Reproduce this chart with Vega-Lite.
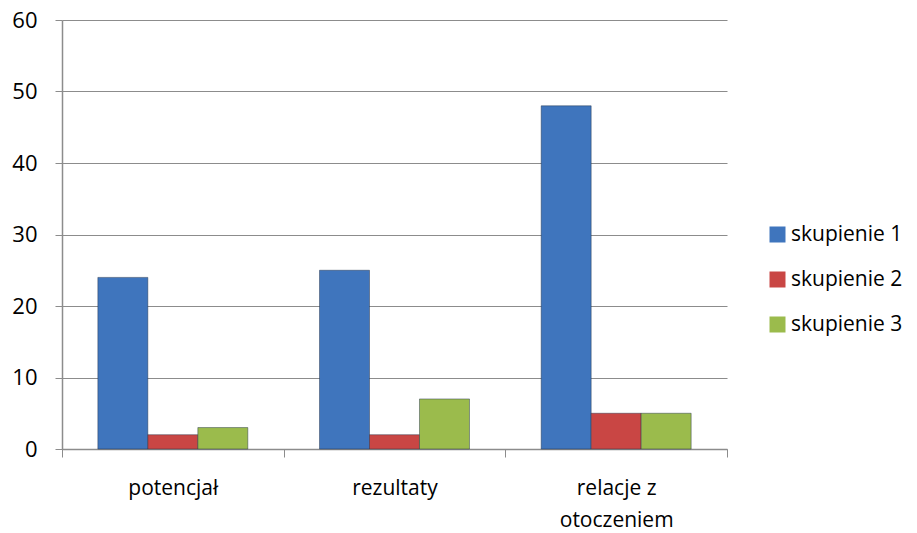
{
  "$schema": "https://vega.github.io/schema/vega-lite/v6.json",
  "width": 665,
  "height": 429,
  "autosize": {"type": "none"},
  "padding": {"left": 62, "top": 20, "right": 190, "bottom": 84},
  "background": "white",
  "config": {
    "view": {"stroke": null},
    "font": "Open Sans"
  },
  "data": {
    "values": [
      {"kategoria": "potencjał", "seria": "skupienie 1", "wartosc": 24},
      {"kategoria": "potencjał", "seria": "skupienie 2", "wartosc": 2},
      {"kategoria": "potencjał", "seria": "skupienie 3", "wartosc": 3},
      {"kategoria": "rezultaty", "seria": "skupienie 1", "wartosc": 25},
      {"kategoria": "rezultaty", "seria": "skupienie 2", "wartosc": 2},
      {"kategoria": "rezultaty", "seria": "skupienie 3", "wartosc": 7},
      {"kategoria": "relacje z otoczeniem", "seria": "skupienie 1", "wartosc": 48},
      {"kategoria": "relacje z otoczeniem", "seria": "skupienie 2", "wartosc": 5},
      {"kategoria": "relacje z otoczeniem", "seria": "skupienie 3", "wartosc": 5}
    ]
  },
  "mark": {"type": "bar", "stroke": "#1f2f45", "strokeOpacity": 0.45, "strokeWidth": 1},
  "encoding": {
    "x": {
      "field": "kategoria",
      "type": "nominal",
      "sort": ["potencjał", "rezultaty", "relacje z otoczeniem"],
      "scale": {"paddingInner": 0, "paddingOuter": 0},
      "axis": {
        "title": null,
        "labelAngle": 0,
        "labelFontSize": 21,
        "labelColor": "#000000",
        "labelPadding": 20,
        "labelLineHeight": 32,
        "labelExpr": "datum.label == 'relacje z otoczeniem' ? ['relacje z', 'otoczeniem'] : datum.label",
        "tickBand": "extent",
        "tickSize": 8,
        "tickColor": "#8c8c8c",
        "domainColor": "#8c8c8c",
        "domainWidth": 1.5,
        "grid": false
      }
    },
    "xOffset": {
      "field": "seria",
      "type": "nominal",
      "scale": {"paddingInner": 0, "paddingOuter": 0.717}
    },
    "y": {
      "field": "wartosc",
      "type": "quantitative",
      "scale": {"domain": [0, 60], "nice": false},
      "axis": {
        "title": null,
        "values": [0, 10, 20, 30, 40, 50, 60],
        "labelFontSize": 22,
        "labelColor": "#000000",
        "labelPadding": 18,
        "tickSize": 7,
        "tickColor": "#8c8c8c",
        "domainColor": "#8c8c8c",
        "domainWidth": 1.5,
        "gridColor": "#8c8c8c",
        "gridWidth": 1.2
      }
    },
    "color": {
      "field": "seria",
      "type": "nominal",
      "scale": {
        "domain": ["skupienie 1", "skupienie 2", "skupienie 3"],
        "range": ["#3f75bd", "#c94644", "#9bbb4c"]
      },
      "legend": {
        "title": null,
        "orient": "none",
        "legendX": 705,
        "legendY": 204,
        "symbolType": "square",
        "symbolSize": 256,
        "symbolStrokeWidth": 0,
        "labelFontSize": 21,
        "labelColor": "#000000",
        "labelOffset": 3,
        "rowPadding": 23
      }
    }
  }
}
